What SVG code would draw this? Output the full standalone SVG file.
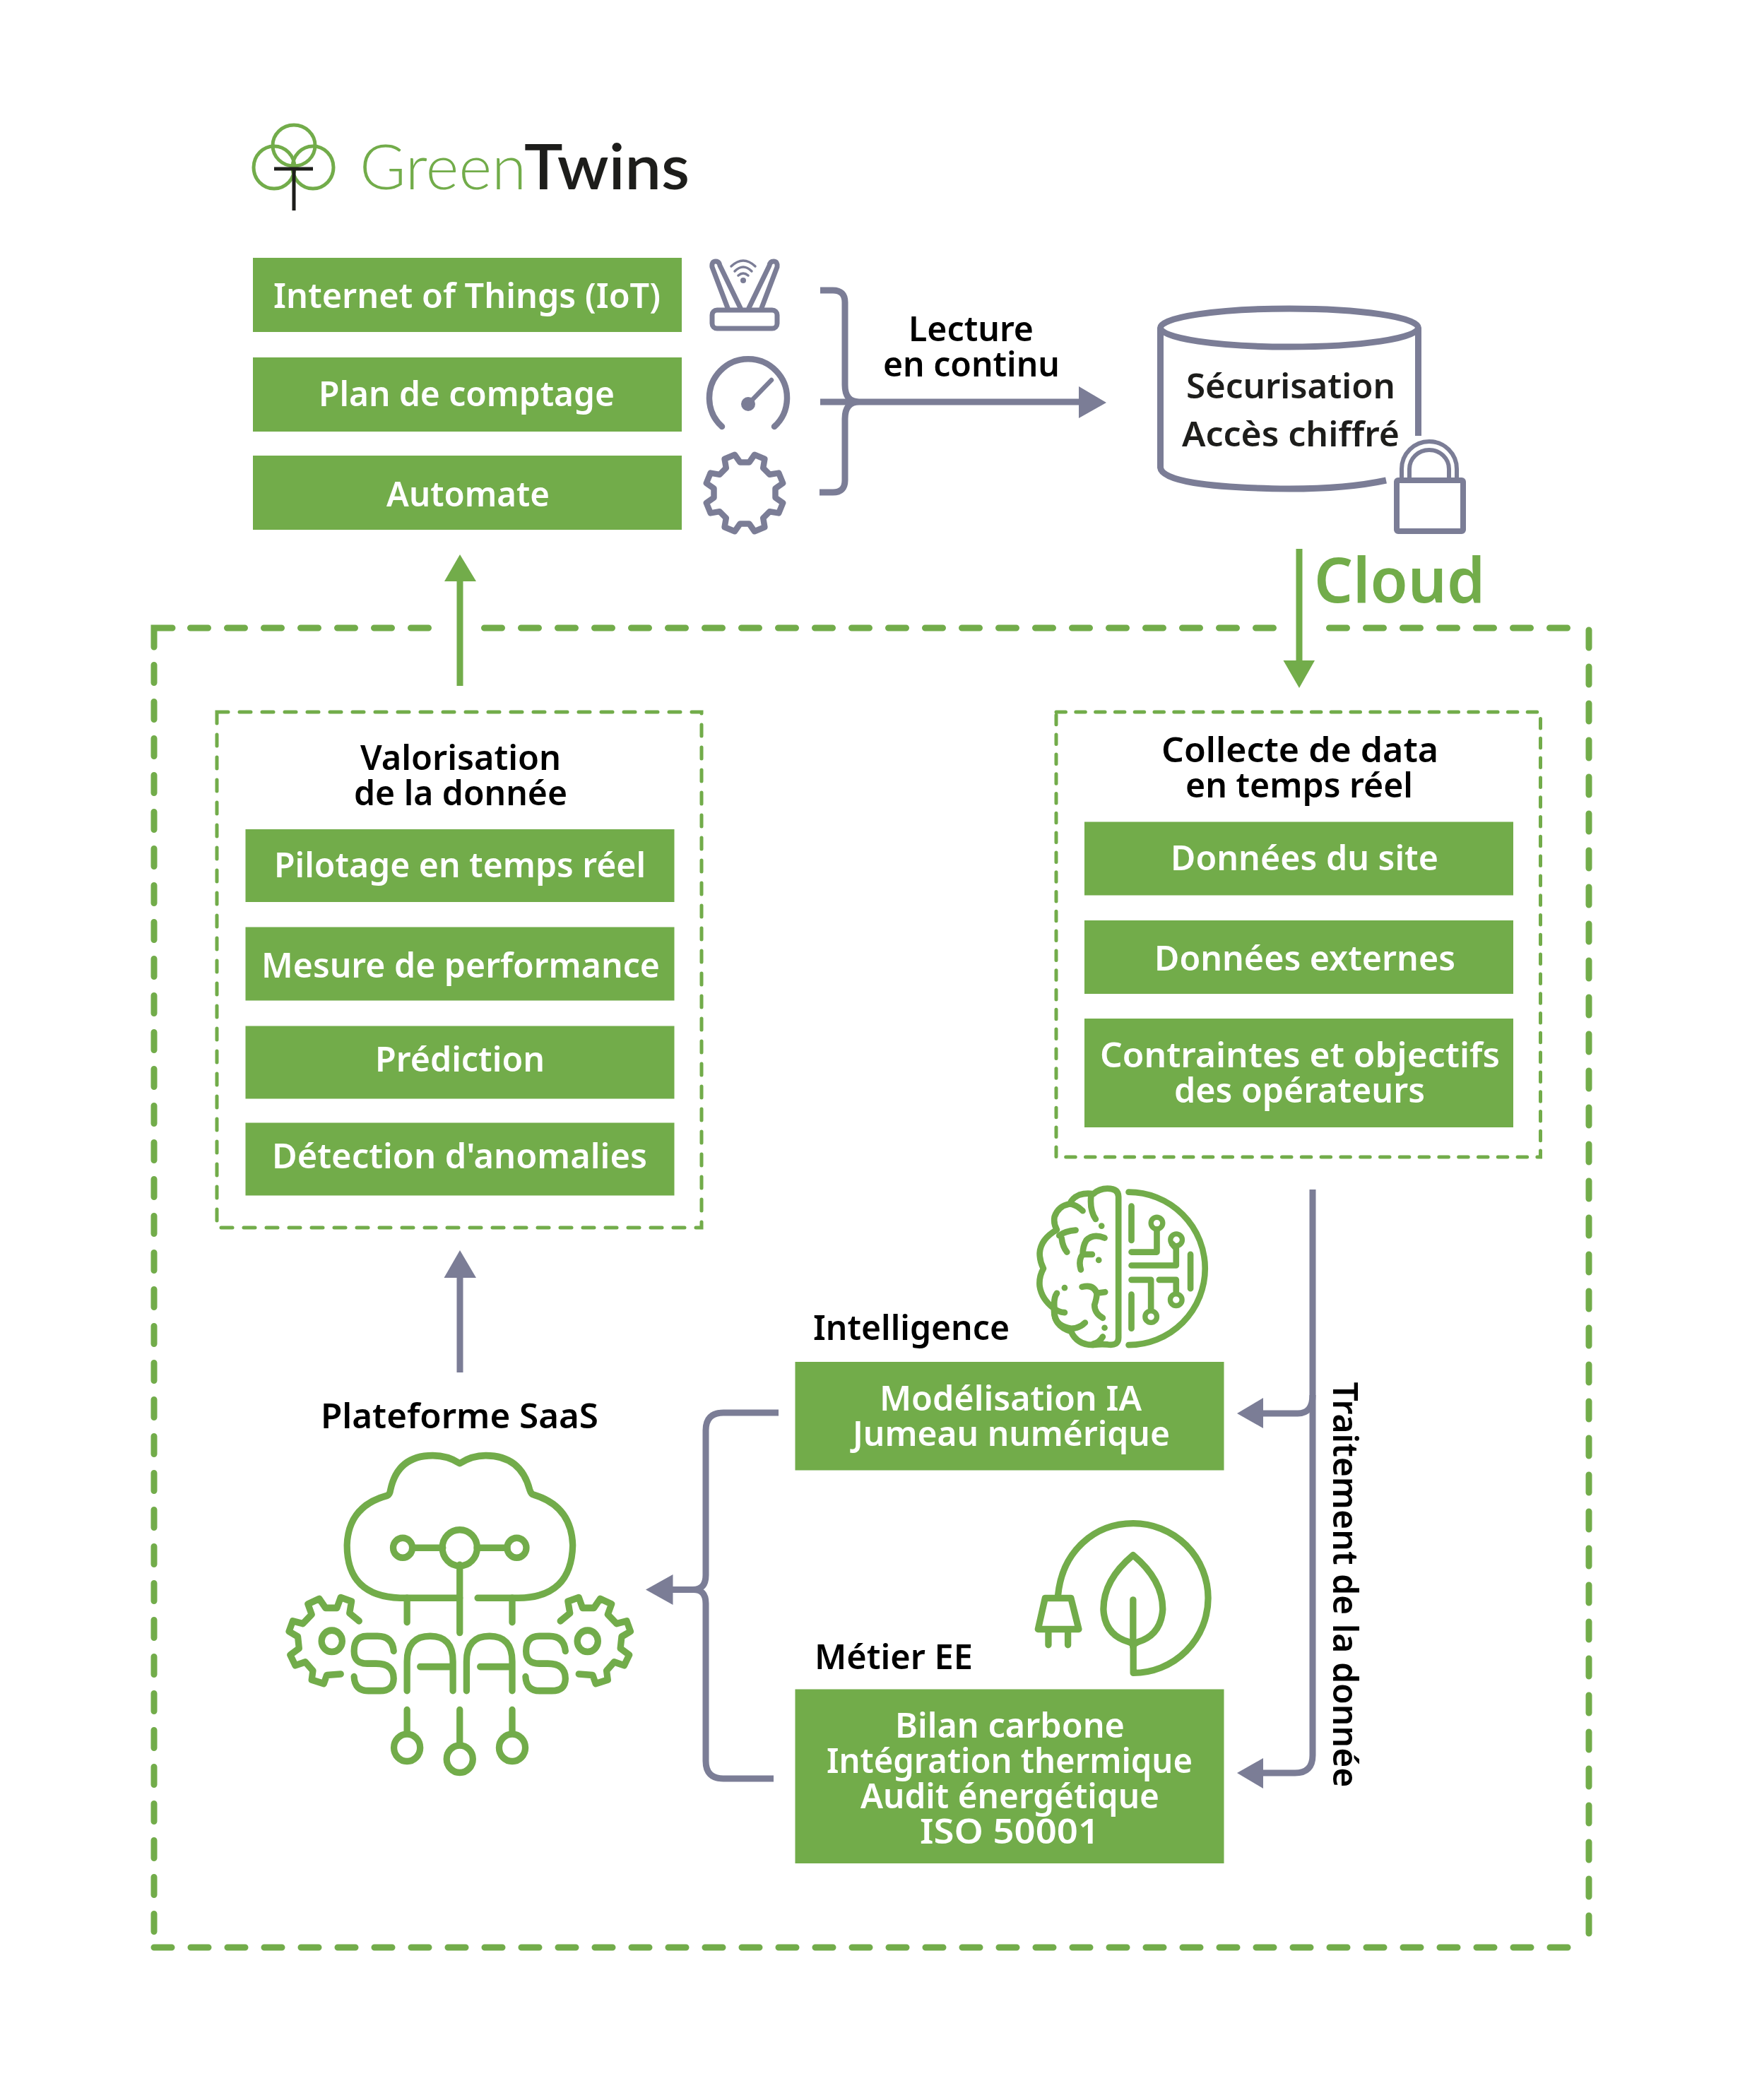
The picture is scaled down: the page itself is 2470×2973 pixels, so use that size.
<svg xmlns="http://www.w3.org/2000/svg" width="2470" height="2973" viewBox="0 0 2470 2973">
<style>
text{font-family:"Noto Sans","Liberation Sans",sans-serif;font-weight:600;font-size:49px}
.w{fill:#fff}.k{fill:#000}.d{fill:#1d1d1b}
.box{fill:#72ac4a}
.g{fill:none;stroke:#7b7d96;stroke-width:9;stroke-linejoin:round}
.gh{fill:#7b7d96}
.gn{fill:none;stroke:#72ac4a;stroke-width:9}
.gh2{fill:#72ac4a}
.ic{fill:none;stroke:#72ac4a;stroke-width:26;stroke-linecap:round;stroke-linejoin:round}
.dot{fill:#72ac4a}
.big{fill:none;stroke:#72ac4a;stroke-width:9;stroke-linecap:round;stroke-dasharray:25 27}
.sm{fill:none;stroke:#72ac4a;stroke-width:5;stroke-linecap:round}
</style>
<rect width="2470" height="2973" fill="#fff"/>

<g id="cloud-frame">
<path class="big" d="M218 916V889H244" style="stroke-dasharray:none"/>
<path class="big" d="M269.500 889H608"/>
<path class="big" d="M685.500 889H1806"/>
<path class="big" d="M1881.500 889H2222"/>
<path class="big" d="M2249 892V2745"/>
<path class="big" d="M218 941.500V2745"/>
<path class="big" d="M218 2757H2226"/>
</g>

<g id="logo">
<g fill="none" stroke="#72ac4a" stroke-width="5">
<ellipse cx="416" cy="206" rx="30" ry="29"/>
<ellipse cx="388" cy="237" rx="29" ry="30"/>
<ellipse cx="443" cy="237" rx="29" ry="30"/>
</g>
<path d="M388 239H443M416 239V298" fill="none" stroke="#1d1d1b" stroke-width="5"/>
<text x="509" y="268" textLength="236" lengthAdjust="spacingAndGlyphs" style="font-family:Lato,sans-serif;font-weight:300;font-size:88px;fill:#72ac4a">Green</text>
<text x="742" y="268" textLength="234" lengthAdjust="spacingAndGlyphs" style="font-family:Lato,sans-serif;font-weight:600;font-size:88px;fill:#1d1d1b">Twins</text>
</g>

<g id="iot">
<rect class="box" x="358" y="365" width="607" height="105"/>
<text class="w" x="387" y="436" textLength="548" lengthAdjust="spacingAndGlyphs">Internet of Things (IoT)</text>
<g fill="none" stroke="#7b7d96" stroke-width="7" stroke-linejoin="round" stroke-linecap="round">
<rect x="1008" y="439" width="92" height="26" rx="7"/>
<path d="M1030 436L1008 378Q1007 370 1013 370Q1018 370 1019 376L1048 436"/>
<path d="M1078 436L1100 378Q1101 370 1095 370Q1090 370 1089 376L1060 436"/>
<path d="M1035 377Q1052 361 1069 377M1040 384Q1052 372 1064 384M1045 390Q1052 384 1059 390" stroke-width="3.500"/>
</g>
<circle cx="1052" cy="397" r="4" class="gh"/>
</g>

<g id="plan">
<rect class="box" x="358" y="506" width="607" height="105"/>
<text class="w" x="451" y="575" textLength="419" lengthAdjust="spacingAndGlyphs">Plan de comptage</text>
<path d="M1022 604A55 55 0 1 1 1096 604" fill="none" stroke="#7b7d96" stroke-width="8.500" stroke-linecap="round"/>
<circle cx="1059" cy="572" r="10" class="gh"/>
<path d="M1059 572L1092 538" fill="none" stroke="#7b7d96" stroke-width="6.500" stroke-linecap="round"/>
</g>

<g id="automate">
<rect class="box" x="358" y="645" width="607" height="105"/>
<text class="w" x="547" y="717" textLength="231" lengthAdjust="spacingAndGlyphs">Automate</text>
<path transform="translate(1054 698)" fill="none" stroke="#7b7d96" stroke-width="8.500" stroke-linejoin="round" d="M43.500 6.500L54.200 14L48.300 28.400L35.400 26.200L26.200 35.400L28.400 48.300L14 54.200L6.500 43.500L-6.500 43.500L-14 54.200L-28.400 48.300L-26.200 35.400L-35.400 26.200L-48.300 28.400L-54.200 14L-43.500 6.500L-43.500 -6.500L-54.200 -14L-48.300 -28.400L-35.400 -26.200L-26.200 -35.400L-28.400 -48.300L-14 -54.200L-6.500 -43.500L6.500 -43.500L14 -54.200L28.400 -48.300L26.200 -35.400L35.400 -26.200L48.300 -28.400L54.200 -14L43.500 -6.500Z"/>
</g>

<g id="securisation">
<g class="g">
<ellipse cx="1825" cy="464" rx="182.500" ry="27"/>
<path d="M1642.500 464V662Q1646 690 1825 692Q1907 692 1962 680"/>
<path d="M2007.500 464V617"/>
<path d="M1984 680V664A39 39 0 0 1 2062 664V680M1995 680V664A28 27 0 0 1 2051 664V680" stroke-width="6"/>
<rect x="1977" y="680" width="94" height="72" rx="2" stroke-width="8"/>
</g>
<text class="d" x="1679" y="564" textLength="296" lengthAdjust="spacingAndGlyphs">Sécurisation</text>
<text class="d" x="1673" y="632" textLength="308" lengthAdjust="spacingAndGlyphs">Accès chiffré</text>
</g>

<text id="label-lecture" class="k" x="1286" y="483" textLength="177" lengthAdjust="spacingAndGlyphs">Lecture</text>
<text id="label-continu" class="k" x="1250" y="533" textLength="250" lengthAdjust="spacingAndGlyphs">en continu</text>
<text id="label-cloud" x="1860" y="853" textLength="242" lengthAdjust="spacingAndGlyphs" style="font-size:88px;font-weight:600;fill:#72ac4a">Cloud</text>
<text id="label-traitement" class="k" transform="translate(1887 1956.500) rotate(90)" textLength="574" lengthAdjust="spacingAndGlyphs">Traitement de la donnée</text>

<g id="valorisation">
<rect class="sm" x="307" y="1008" width="686" height="730" stroke-dasharray="16 16"/>
<text class="k" x="510" y="1090" textLength="284" lengthAdjust="spacingAndGlyphs">Valorisation</text>
<text class="k" x="501" y="1140" textLength="302" lengthAdjust="spacingAndGlyphs">de la donnée</text>
<rect class="box" x="347.500" y="1174" width="607" height="103"/>
<text class="w" x="388" y="1242" textLength="526" lengthAdjust="spacingAndGlyphs">Pilotage en temps réel</text>
<rect class="box" x="347.500" y="1312.500" width="607" height="104"/>
<text class="w" x="370" y="1384" textLength="564" lengthAdjust="spacingAndGlyphs">Mesure de performance</text>
<rect class="box" x="347.500" y="1452.500" width="607" height="103"/>
<text class="w" x="531" y="1517" textLength="240" lengthAdjust="spacingAndGlyphs">Prédiction</text>
<rect class="box" x="347.500" y="1589.500" width="607" height="103"/>
<text class="w" x="385" y="1654" textLength="531" lengthAdjust="spacingAndGlyphs">Détection d'anomalies</text>
</g>

<g id="collecte">
<rect class="sm" x="1495" y="1008" width="685.500" height="630" stroke-dasharray="13.500 14.300"/>
<text class="k" x="1644" y="1079" textLength="392" lengthAdjust="spacingAndGlyphs">Collecte de data</text>
<text class="k" x="1678" y="1129" textLength="322" lengthAdjust="spacingAndGlyphs">en temps réel</text>
<rect class="box" x="1535" y="1163.500" width="607" height="104"/>
<text class="w" x="1657" y="1232" textLength="379" lengthAdjust="spacingAndGlyphs">Données du site</text>
<rect class="box" x="1535" y="1303" width="607" height="104"/>
<text class="w" x="1634" y="1374" textLength="426" lengthAdjust="spacingAndGlyphs">Données externes</text>
<rect class="box" x="1535" y="1442" width="607" height="154"/>
<text class="w" x="1557" y="1511" textLength="566" lengthAdjust="spacingAndGlyphs">Contraintes et objectifs</text>
<text class="w" x="1662" y="1561" textLength="355" lengthAdjust="spacingAndGlyphs">des opérateurs</text>
</g>

<g id="intelligence">
<text class="k" x="1151" y="1897" textLength="278" lengthAdjust="spacingAndGlyphs">Intelligence</text>
<rect class="box" x="1125.500" y="1928" width="607" height="153.500"/>
<text class="w" x="1245" y="1997" textLength="371" lengthAdjust="spacingAndGlyphs">Modélisation IA</text>
<text class="w" x="1207" y="2047" textLength="449" lengthAdjust="spacingAndGlyphs">Jumeau numérique</text>
<g transform="translate(1441 1661) scale(.333 .333)">
<g class="ic">
<path d="M380 728Q427 735 427 700V100Q427 65 380 65Q345 65 320 88Q290 82 260 92Q230 105 220 130Q170 140 155 185Q150 215 165 240Q95 280 92 340Q92 375 108 405Q88 440 92 480Q100 535 153 575Q150 650 225 672Q250 730 320 730Q350 725 380 728"/>
<path d="M330 195Q305 160 310 100M275 160Q250 135 220 130M245 242Q200 245 175 265M185 275Q190 315 208 335"/>
<path d="M368 275Q320 255 290 285Q275 310 275 345Q255 370 267 410M275 345H315"/>
<path d="M272 483Q320 470 335 510Q335 530 325 560Q325 595 360 615M335 510L370 505"/>
<path d="M165 510Q150 530 155 575Q170 590 198 592M155 600Q160 650 225 660Q260 660 285 635M360 695Q345 720 320 725"/>
<path d="M470 80A325 325 0 0 1 470 730M482 140V285M482 335H590V240M482 392H672V320L655 300M733 345V490M482 453H565V575M600 453H672V505M482 515V660"/>
<g stroke-width="22"><circle cx="590" cy="212" r="25"/><circle cx="673" cy="283" r="25"/><circle cx="565" cy="610" r="25"/><circle cx="672" cy="538" r="25"/></g>
</g>
<circle class="dot" cx="355" cy="224" r="13"/><circle class="dot" cx="343" cy="369" r="13"/><circle class="dot" cx="198" cy="487" r="13"/><circle class="dot" cx="368" cy="657" r="13"/>
</g>
</g>

<g id="metier">
<text class="k" x="1153" y="2362.500" textLength="224" lengthAdjust="spacingAndGlyphs">Métier EE</text>
<rect class="box" x="1125.500" y="2391.500" width="607" height="246.500"/>
<text class="w" x="1267" y="2460" textLength="325" lengthAdjust="spacingAndGlyphs">Bilan carbone</text>
<text class="w" x="1170" y="2510" textLength="518" lengthAdjust="spacingAndGlyphs">Intégration thermique</text>
<text class="w" x="1218" y="2560" textLength="423" lengthAdjust="spacingAndGlyphs">Audit énergétique</text>
<text class="w" x="1302" y="2610" textLength="254" lengthAdjust="spacingAndGlyphs">ISO 50001</text>
<g class="ic" transform="translate(1442 2130) scale(.333 .333)" style="stroke-width:28">
<path d="M167 385C185 200 320 80 487 80A318 318 0 0 1 805 398A318 318 0 0 1 487 716V605Q487 590 470 585Q365 555 360 445Q360 320 486 215Q612 320 612 445Q605 555 505 585Q487 592 487 605"/>
<path d="M486 405V605"/>
<path d="M112 398H222L255 530H82ZM126 540V597M209 540V597"/>
</g>
</g>

<g id="saas">
<text class="k" x="454" y="2022" textLength="393" lengthAdjust="spacingAndGlyphs">Plateforme SaaS</text>
<g class="ic" transform="translate(380.500 1960) scale(.357 .37)">
<path d="M757 817H520Q310 810 310 615Q315 465 470 425Q480 420 482 405Q510 272 650 272Q710 272 757 302Q805 272 860 272Q1000 272 1035 405Q1040 420 1050 422Q1200 465 1205 615Q1200 815 990 817H828"/>
<path d="M548 817V910M757 690V950M965 817V910"/>
<circle cx="757" cy="625" r="69"/><circle cx="531" cy="625" r="38"/><circle cx="983" cy="625" r="38"/>
<path d="M570 625H690M825 625H945"/>
<path d="M495 1020Q490 963 430 963H390Q338 963 338 1020Q338 1068 390 1068H425Q495 1068 495 1125Q495 1172 440 1172H395Q340 1172 338 1118"/>
<path d="M548 1172V1060Q548 963 640 963Q730 963 730 1060V1172M600 1080H730"/>
<path d="M784 1172V1060Q784 963 875 963Q965 963 965 1060V1172M838 1080H965"/>
<path d="M1176 1020Q1170 963 1112 963H1072Q1020 963 1020 1020Q1020 1068 1072 1068H1105Q1176 1068 1176 1125Q1176 1172 1122 1172H1075Q1020 1172 1018 1118"/>
<path d="M548 1245V1335M757 1245V1375M965 1245V1335"/>
<circle cx="548" cy="1390" r="52"/><circle cx="757" cy="1433" r="52"/><circle cx="965" cy="1390" r="52"/>
<circle cx="250" cy="982" r="41"/><circle cx="1264" cy="982" r="41"/>
<path d="M285 1108L230 1112L218 1145L170 1130L175 1095L145 1062L105 1075L85 1035L120 1010L115 965L80 945L95 905L135 915L170 880L155 840L200 820L225 855L270 855L285 815L328 830L320 875L358 905"/>
<path d="M1229 1108L1284 1112L1296 1145L1344 1130L1339 1095L1369 1062L1409 1075L1429 1035L1394 1010L1399 965L1434 945L1419 905L1379 915L1344 880L1359 840L1314 820L1289 855L1244 855L1229 815L1186 830L1194 875L1156 905"/>
</g>
</g>

<g id="connectors">
<path class="g" d="M1161 411H1179Q1196 411 1196 428V545Q1196 569 1216 569M1160 697H1179Q1196 697 1196 680V593Q1196 569 1216 569M1161 569H1528"/>
<path class="gh" d="M1527 547L1566 570L1527 592Z"/>
<path class="gn" d="M1839 777V940"/>
<path class="gh2" d="M1816.500 935H1861L1839 974Z"/>
<path class="gn" d="M651 971V820"/>
<path class="gh2" d="M629 823H674L651 785Z"/>
<path class="g" d="M651 1943V1805"/>
<path class="gh" d="M628.500 1809H674L651 1770Z"/>
<path class="g" d="M1858 1684V1975Q1858 2001 1837 2001H1785"/>
<path class="gh" d="M1788 1979V2022L1751 2001Z"/>
<path class="g" d="M1858 1975V2485Q1858 2510 1833 2510H1785"/>
<path class="gh" d="M1788 2489V2532L1751 2510Z"/>
<path class="g" d="M1102 2000H1024Q999 2000 999 2025V2230Q999 2250 981 2250.500M1095 2518H1024Q999 2518 999 2493V2270Q999 2250 981 2250.500H950"/>
<path class="gh" d="M952.500 2229V2272L914 2250.500Z"/>
</g>
</svg>
